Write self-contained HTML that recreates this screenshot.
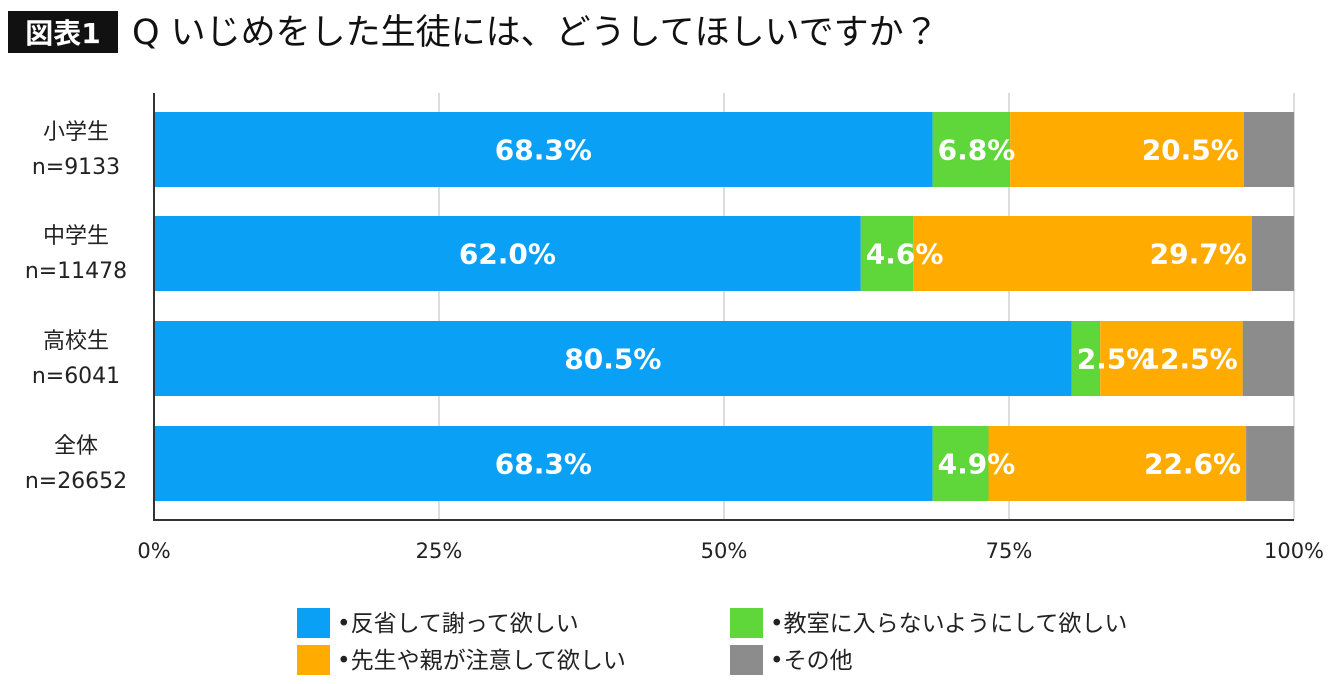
<!DOCTYPE html>
<html><head><meta charset="utf-8"><style>
body{margin:0;width:1340px;height:680px;background:#fff;overflow:hidden;font-family:"DejaVu Sans","Noto Sans CJK JP",sans-serif;}
svg text{font-family:"DejaVu Sans","Noto Sans CJK JP",sans-serif;}
</style></head><body>
<svg id="chart" width="1340" height="680">
<rect x="8" y="11" width="110" height="42" fill="#111"/>
<text x="63" y="43" text-anchor="middle" fill="#fff" font-size="28" font-weight="bold">図表1</text>
<text x="132" y="44" font-size="35" fill="#111">Q いじめをした生徒には、どうしてほしいですか？</text>
<g id="grid"></g><g id="bars"></g><g id="labels"></g><g id="axes"></g><g id="legend"></g>
</svg>
<script>
const categories=["小学生","中学生","高校生","全体"];
const counts=["n=9133","n=11478","n=6041","n=26652"];
const apologize=[68.3,62.0,80.5,68.3];
const notInClass=[6.8,4.6,2.5,4.9];
const teacherWarn=[20.5,29.7,12.5,22.6];
const other=[4.4,3.7,4.5,4.2];
const ticks=[0,25,50,75,100];
const seriesNames=["•反省して謝って欲しい","•教室に入らないようにして欲しい","•先生や親が注意して欲しい","•その他"];
const colors=["#0aa0f6","#5fd63a","#ffab00","#8c8c8c"];
const NS="http://www.w3.org/2000/svg";
const x0=154,x1=1294;
const xs=v=>x0+(x1-x0)*v/100;
const rowTop=[112,216,321,426],barH=75;
function mk(t,a,p){const e=document.createElementNS(NS,t);for(const k in a)e.setAttribute(k,a[k]);p.appendChild(e);return e;}
const grid=document.getElementById('grid'),bars=document.getElementById('bars'),labels=document.getElementById('labels'),axes=document.getElementById('axes'),legend=document.getElementById('legend');
ticks.forEach(t=>{
 if(t>0){const l=mk('line',{x1:xs(t),x2:xs(t),y1:93,y2:520,stroke:'#bbb','stroke-width':1},grid);
 
 }
 const tx=mk('text',{x:xs(t),y:558,'text-anchor':'middle','font-size':21,fill:'#222'},axes);tx.textContent=t+'%';
 
 
});
const series=[apologize,notInClass,teacherWarn,other];
categories.forEach((c,i)=>{
 let acc=0;const y=rowTop[i];
 series.forEach((s,j)=>{
  const v=s[i];const r=mk('rect',{x:xs(acc),y:y,width:xs(acc+v)-xs(acc),height:barH,fill:colors[j]},bars);
  
  
  if(j<3){let tx,anchor;
   if(j==0){tx=(xs(acc)+xs(acc+v))/2;anchor='middle';}
   else if(j==1){tx=xs(acc)+5;anchor='start';}
   else{tx=xs(acc+v)-5;anchor='end';}
   const t=mk('text',{x:tx,y:y+barH/2+10,'text-anchor':anchor,'font-size':28,'font-weight':'bold',fill:'#fff'},labels);
   t.textContent=v.toFixed(1)+'%';
   
   }
  acc+=v;
 });
 const l1=mk('text',{x:76,y:y+27,'text-anchor':'middle','font-size':22,fill:'#222'},axes);l1.textContent=c;
 
 
 const l2=mk('text',{x:76,y:y+62,'text-anchor':'middle','font-size':22,fill:'#222'},axes);l2.textContent=counts[i];
 
 
});
const ya=mk('line',{x1:x0,x2:x0,y1:93,y2:521,stroke:'#333','stroke-width':2},axes);


const xa=mk('line',{x1:x0,x2:x1,y1:520,y2:520,stroke:'#333','stroke-width':2},axes);


const lp=[[297,608],[730,608],[297,645],[730,645]];
seriesNames.forEach((n,j)=>{
 const r=mk('rect',{x:lp[j][0],y:lp[j][1],width:33,height:30,fill:colors[j]},legend);
 
 
 const t=mk('text',{x:lp[j][0]+40,y:lp[j][1]+23,'font-size':23,fill:'#222'},legend);t.textContent=n;
 
 
});
</script>
</body></html>
